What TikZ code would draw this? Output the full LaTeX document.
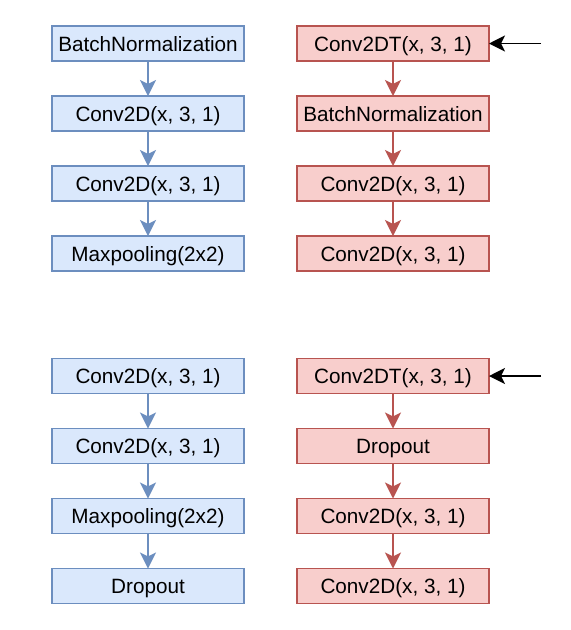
\documentclass[tikz,border=0pt]{standalone}
\usepackage{fontspec}
\setmainfont{Liberation Sans}
\usepackage{xcolor}
\usepackage{tikz}
\usetikzlibrary{arrows.meta,positioning}
\definecolor{encfill}{HTML}{DAE8FC}
\definecolor{encline}{HTML}{6C8EBF}
\definecolor{decfill}{HTML}{F8CECC}
\definecolor{decline}{HTML}{B85450}

\begin{document}
\begin{tikzpicture}[
    x=1pt, y=1pt,
    node distance=35pt,
    enc/.style={draw=encline, fill=encfill, line width=1.7pt, font=\fontsize{20.7}{24}\selectfont,
                align=center, minimum width=192pt, minimum height=35pt, inner sep=0pt, outer sep=0pt,
                text height=15pt, text depth=0pt},
    dec/.style={enc, draw=decline, fill=decfill},
    encline/.style={draw=encline, line width=1.7pt, -{Stealth[length=16pt,width=16pt,inset=4pt]}},
    decline/.style={encline, draw=decline},
    inline/.style={line width=1.7pt, -{Stealth[length=16pt,width=16pt,inset=4pt]}}
]
\useasboundingbox (0,0) rectangle (571,-630);
% top blocks
\node[enc] (bn1) at (148,-43.5) {BatchNormalization};
\node[enc, below=of bn1] (conva) {Conv2D(x, 3, 1)};
\node[enc, below=of conva] (convb) {Conv2D(x, 3, 1)};
\node[enc, below=of convb] (pool1) {Maxpooling(2x2)};
\draw[encline] (bn1) -- (conva);
\draw[encline] (conva) -- (convb);
\draw[encline] (convb) -- (pool1);

\node[dec] (upa) at (393,-43.5) {Conv2DT(x, 3, 1)};
\node[dec, below=of upa] (bn2) {BatchNormalization};
\node[dec, below=of bn2] (convc) {Conv2D(x, 3, 1)};
\node[dec, below=of convc] (convd) {Conv2D(x, 3, 1)};
\draw[decline] (upa) -- (bn2);
\draw[decline] (bn2) -- (convc);
\draw[decline] (convc) -- (convd);
\coordinate (ina) at (541,-43.5);
\draw[inline] (ina) -- (upa.east);

% bottom blocks
\node[enc] (conve) at (148,-376) {Conv2D(x, 3, 1)};
\node[enc, below=of conve] (convf) {Conv2D(x, 3, 1)};
\node[enc, below=of convf] (pool2) {Maxpooling(2x2)};
\node[enc, below=of pool2] (drop1) {Dropout};
\draw[encline] (conve) -- (convf);
\draw[encline] (convf) -- (pool2);
\draw[encline] (pool2) -- (drop1);

\node[dec] (upb) at (393,-376) {Conv2DT(x, 3, 1)};
\node[dec, below=of upb] (drop2) {Dropout};
\node[dec, below=of drop2] (convg) {Conv2D(x, 3, 1)};
\node[dec, below=of convg] (convh) {Conv2D(x, 3, 1)};
\draw[decline] (upb) -- (drop2);
\draw[decline] (drop2) -- (convg);
\draw[decline] (convg) -- (convh);
\coordinate (inb) at (541,-376);
\draw[inline] (inb) -- (upb.east);
\end{tikzpicture}
\end{document}
